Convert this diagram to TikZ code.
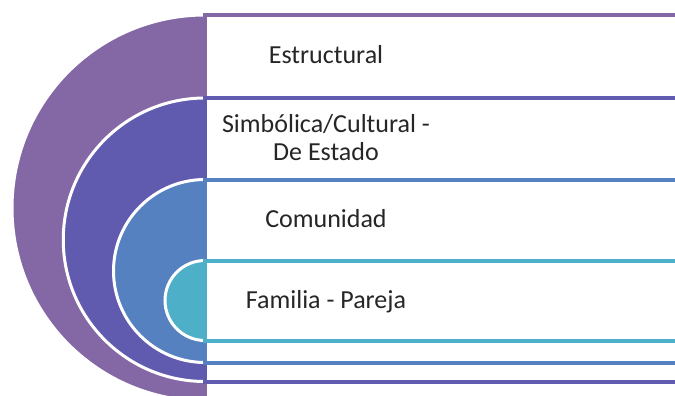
\documentclass[tikz,border=0pt]{standalone}
\usepackage{fontspec}
\setmainfont{Carlito}
\definecolor{cA}{HTML}{8468A6}
\definecolor{cB}{HTML}{605BAE}
\definecolor{cC}{HTML}{5681C0}
\definecolor{cD}{HTML}{4EAFC8}
\definecolor{txt}{HTML}{262626}
\begin{document}
\begin{tikzpicture}[x=1pt,y=-1pt,
  disc/.style={fill=#1, draw=white, line width=3pt},
  band/.style={fill=white, draw=#1, line width=4pt},
  lbl/.style={text=txt, font=\fontsize{26}{28}\selectfont, align=center, inner sep=0pt}]
\useasboundingbox (0,0) rectangle (675,396);
\clip (0,0) rectangle (675,396);
% level 1
\path[disc=cA] (205,208) circle (193);
\path[band=cA] (205,15) rectangle (695,401);
% level 2
\path[disc=cB] (205,239.75) circle (141.75);
\path[band=cB] (205,98) rectangle (695,381.5);
% level 3
\path[disc=cC] (205,271) circle (91.5);
\path[band=cC] (205,179.5) rectangle (695,362.5);
% level 4
\path[disc=cD] (205,300.5) circle (40);
\path[band=cD] (205,260.5) rectangle (695,340.5);
% labels
\node[lbl, anchor=base] (l1) at (326,64) {Estructural};
\node[lbl, anchor=base] (l2) at (326,160) {Simbólica/Cultural -\\De Estado};
\node[lbl, anchor=base] (l3) at (326,227) {Comunidad};
\node[lbl, anchor=base] (l4) at (326,308) {Familia - Pareja};
\end{tikzpicture}
\end{document}
